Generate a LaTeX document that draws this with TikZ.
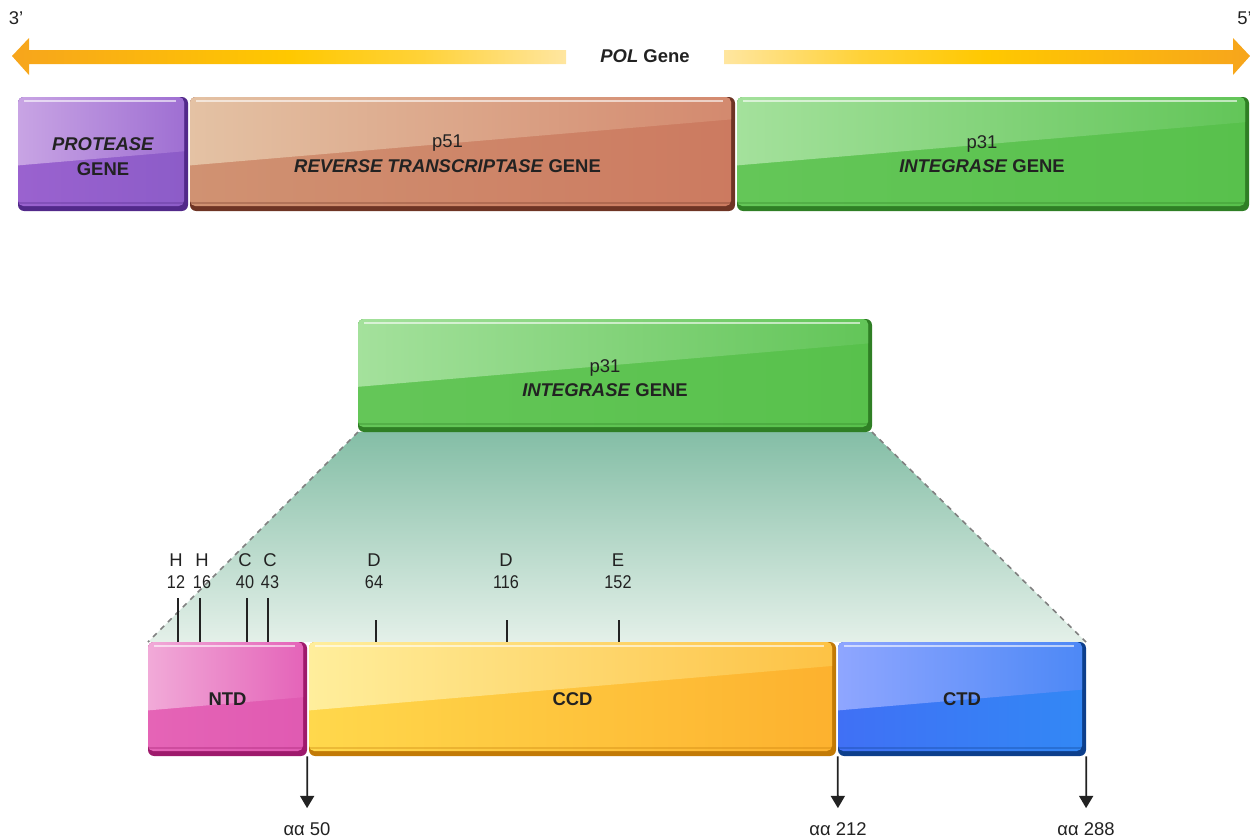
\documentclass[tikz,border=0pt]{standalone}
\usepackage{fontspec}
\usepackage{graphicx}
\setmainfont{Liberation Sans}
\usetikzlibrary{arrows.meta,fit}
\newcommand\nrw[1]{\scalebox{0.88}[1]{#1}}
\definecolor{txt}{HTML}{222222}
\definecolor{arrO}{HTML}{F7A51C}
\definecolor{arrY}{HTML}{FFC800}
\definecolor{arrM}{HTML}{FFD238}
\definecolor{arrP}{HTML}{FFE6A0}
\pgfdeclarehorizontalshading{polL}{100bp}{color(0bp)=(arrO); color(25bp)=(arrO); color(50bp)=(arrY); color(62bp)=(arrM); color(75bp)=(arrP); color(100bp)=(arrP)}
\pgfdeclarehorizontalshading{polR}{100bp}{color(0bp)=(arrP); color(25bp)=(arrP); color(38bp)=(arrM); color(50bp)=(arrY); color(75bp)=(arrO); color(100bp)=(arrO)}
% purple
\definecolor{purTL}{HTML}{C8A4E4}\definecolor{purTR}{HTML}{9E6ED2}
\definecolor{purBL}{HTML}{9A62CF}\definecolor{purBR}{HTML}{8C5CC8}\definecolor{purD}{HTML}{52298A}
% brown
\definecolor{rtTL}{HTML}{E4C2A4}\definecolor{rtTR}{HTML}{D3896E}
\definecolor{rtBL}{HTML}{D09272}\definecolor{rtBR}{HTML}{CC7A60}\definecolor{rtD}{HTML}{6E3424}
% green
\definecolor{grnTL}{HTML}{A4E19C}\definecolor{grnTR}{HTML}{62C558}
\definecolor{grnBL}{HTML}{64C658}\definecolor{grnBR}{HTML}{58C14C}\definecolor{grnD}{HTML}{2F7F25}
% pink
\definecolor{pnkTL}{HTML}{F1AAD8}\definecolor{pnkTR}{HTML}{E462B8}
\definecolor{pnkBL}{HTML}{E564B6}\definecolor{pnkBR}{HTML}{E05AB2}\definecolor{pnkD}{HTML}{9E1A6C}
% yellow
\definecolor{yelTL}{HTML}{FFEE9C}\definecolor{yelTR}{HTML}{FDC244}
\definecolor{yelBL}{HTML}{FFD84C}\definecolor{yelBR}{HTML}{FDB12E}\definecolor{yelD}{HTML}{C27A06}
% blue
\definecolor{bluTL}{HTML}{8FA6FF}\definecolor{bluTR}{HTML}{4C88F6}
\definecolor{bluBL}{HTML}{4070F5}\definecolor{bluBR}{HTML}{3288F5}\definecolor{bluD}{HTML}{0D3F8C}
\definecolor{trapT}{HTML}{84BEA6}
\definecolor{trapB}{HTML}{E4F0E9}

\newcommand\gbox[6]{%
  \path (#2,#3) coordinate (#1-nw) (#4,#5) coordinate (#1-se);
  \node[fit=(#1-nw)(#1-se), inner sep=0pt] (#1) {};
  \fill[#6D, rounded corners=3.5pt] (#2,#3) rectangle (#4,#5);
  \begin{scope}
    \clip[rounded corners=3pt] (#2,#3) rectangle ({#4-4},{#5-5});
    \shade[left color=#6BL, right color=#6BR] (#2,#3) rectangle (#4,#5);
    \shade[left color=#6TL, right color=#6TR] (#2,#3) -- (#4,#3) --
      (#4,{#3+max(0.15*(#5-#3),0.6*(#5-#3)-0.085*(#4-#2))}) -- (#2,{#3+0.6*(#5-#3)}) -- cycle;
    \draw[white, opacity=0.6, line width=0.8pt] ({#2+6},{#3+4}) -- ({#4-12},{#3+4});
    \draw[#6D, opacity=0.3, line width=1.2pt] (#2,{#5-8}) -- (#4,{#5-8});
  \end{scope}
}

\begin{document}
\begin{tikzpicture}[x=0.02cm,y=-0.02cm,
  every node/.style={text=txt, font=\fontsize{10.5}{14}\selectfont},
  lbl/.style={align=center},
  res/.style={align=center, inner sep=0pt, font=\fontsize{10.5}{12.5}\selectfont},
  tick/.style={line width=1.1pt, draw=txt},
  down/.style={line width=1pt, draw=txt, -{Triangle[width=8pt,length=7pt]}, shorten >=0.28cm},
  aa/.style={inner sep=0pt}]
\useasboundingbox (0,0) rectangle (1250,839);

% strand ends
\node (p3) at (16,18) {3'};
\node[anchor=west, inner sep=0pt] (p5) at (1237,18) {5'};

% POL gene arrow
\shade[shading=polL]
  (12,56) -- (29,38) -- (29,50) -- (566,50) -- (566,64) -- (29,64) -- (29,75) -- cycle;
\shade[shading=polR]
  (724,50) -- (1233,50) -- (1233,38) -- (1250,56) -- (1233,75) -- (1233,64) -- (724,64) -- cycle;
\node (pol) at (645,56) {\textbf{\textit{POL} Gene}};

% top genes
\gbox{prot}{18}{97}{188}{211}{pur}
\gbox{rt}{190}{97}{735}{211}{rt}
\gbox{intg}{737}{97}{1249}{211}{grn}
\node[lbl] (protT) at ([yshift=-0.05cm]prot.center) {\textbf{\textit{PROTEASE}}\\\textbf{GENE}};
\node[lbl] (rtT) at ([xshift=-0.3cm]rt.center) {p51\\\textbf{\textit{REVERSE TRANSCRIPTASE} GENE}};
\node[lbl] (intgT) at ([xshift=-0.22cm]intg.center) {p31\\\textbf{\textit{INTEGRASE} GENE}};

% zoom trapezoid
\path (358,432) coordinate (zA) (872,432) coordinate (zB) (1086,642) coordinate (zC) (148,642) coordinate (zD);
\shade[top color=trapT, bottom color=trapB] (zA) -- (zB) -- (zC) -- (zD) -- cycle;
\draw[gray, dashed, line width=0.9pt] (zA) -- (zD);
\draw[gray, dashed, line width=0.9pt] (zB) -- (zC);

% middle integrase
\gbox{mid}{358}{319}{872}{432}{grn}
\node[lbl] (midT) at ([xshift=-0.2cm,yshift=-0.05cm]mid.center) {p31\\\textbf{\textit{INTEGRASE} GENE}};

% domains
\gbox{ntd}{148}{642}{307}{756}{pnk}
\gbox{ccd}{309}{642}{836}{756}{yel}
\gbox{ctd}{838}{642}{1086}{756}{blu}
\node (ntdT) at (ntd.center) {\textbf{NTD}};
\node (ccdT) at (ccd.center) {\textbf{CCD}};
\node (ctdT) at (ctd.center) {\textbf{CTD}};

% residues
\node[res] (r12) at (176,571) {H\\\nrw{12}};
\node[res] (r16) at (202,571) {H\\\nrw{16}};
\node[res] (r40) at (245,571) {C\\\nrw{40}};
\node[res] (r43) at (270,571) {C\\\nrw{43}};
\node[res] (r64) at (374,571) {D\\\nrw{64}};
\node[res] (r116) at (506,571) {D\\\nrw{116}};
\node[res] (r152) at (618,571) {E\\\nrw{152}};
\coordinate (t12) at (178,598);
\coordinate (t16) at (200,598);
\coordinate (t40) at (247,598);
\coordinate (t43) at (268,598);
\coordinate (t64) at (376,620);
\coordinate (t116) at (507,620);
\coordinate (t152) at (619,620);
\draw[tick] (t12) -- (t12 |- ntd.north);
\draw[tick] (t16) -- (t16 |- ntd.north);
\draw[tick] (t40) -- (t40 |- ntd.north);
\draw[tick] (t43) -- (t43 |- ntd.north);
\draw[tick] (t64) -- (t64 |- ccd.north);
\draw[tick] (t116) -- (t116 |- ccd.north);
\draw[tick] (t152) -- (t152 |- ccd.north);

% boundaries
\node[aa] (a50) at (307,829) {αα 50};
\node[aa] (a212) at (838,829) {αα 212};
\node[aa] (a288) at (1086,829) {αα 288};
\draw[down] (ntd.south east) -- (a50.north);
\draw[down] (ctd.south west) -- (a212.north);
\draw[down] (ctd.south east) -- (a288.north);
\end{tikzpicture}
\end{document}
